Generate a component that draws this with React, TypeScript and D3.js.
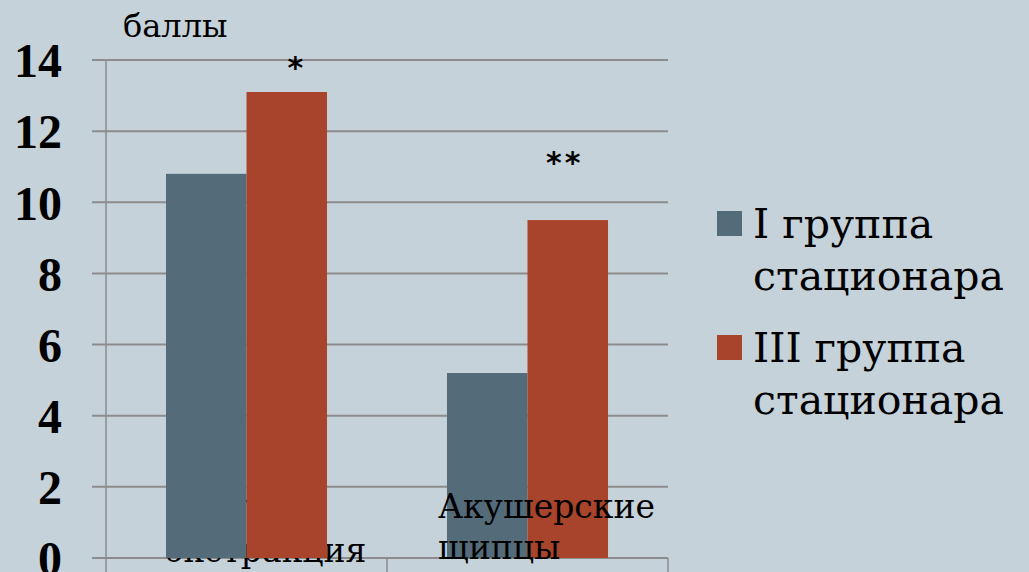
import React from "react";
import * as d3 from "d3";

// Chart data
const categories = ["Вакуум-экстракция", "Акушерские щипцы"];
const categoryLines = [["Вакуум-", "экстракция"], ["Акушерские", "щипцы"]];
const seriesNames = ["I группа стационара", "III группа стационара"];
const seriesLegendLines = [["I группа", "стационара"], ["III группа", "стационара"]];
const groupI = [10.8, 5.2];
const groupIII = [13.1, 9.5];
const significance = ["*", "**"];
const yTicks = [0, 2, 4, 6, 8, 10, 12, 14];
const yLabel = "баллы";

const W = 1029;
const H = 572;
const BG = "#c6d2d9";
const COLORS = ["#546b7a", "#a8432c"];
const GRID = "#8c8c8c";
const SERIF = "'DejaVu Serif', 'Liberation Serif', serif";

export default function App() {
  const left = 106;
  const right = 668;
  const top = 60;
  const bottom = 558;

  const y = d3.scaleLinear().domain([0, 14]).range([bottom, top]);
  const x0 = d3.scaleBand<string>().domain(categories).range([left, right]).paddingInner(0).paddingOuter(0);
  const x1 = d3
    .scaleBand<string>()
    .domain(seriesNames)
    .range([0, x0.bandwidth()])
    .paddingOuter(0.745)
    .paddingInner(0);

  const series = [groupI, groupIII];

  const categoryLabel = (i: number) => {
    const c = categories[i];
    return (
      <text key={`lbl-${c}`} fontFamily={SERIF} fontSize={33} fill="#000">
        {categoryLines[i].map((ln, j) => (
          <tspan
            key={j}
            x={(x0(c) as number) + (i === 0 ? 59 : 51)}
            y={518 + j * 41 + (i === 0 && j === 1 ? 3 : 0)}
          >
            {ln}
          </tspan>
        ))}
      </text>
    );
  };

  return (
    <svg
      width={W}
      height={H}
      style={{ position: "absolute", left: 0, top: 0, display: "block" }}
    >
      <rect x={0} y={0} width={W} height={H} fill={BG} />

      {/* gridlines with short outer tick */}
      {yTicks.map((t) => (
        <line key={t} x1={92} x2={right} y1={y(t)} y2={y(t)} stroke={GRID} strokeWidth={2} />
      ))}
      {/* vertical axis and category separators */}
      <line x1={left} x2={left} y1={top} y2={H} stroke={GRID} strokeWidth={1.5} />
      {[...categories.map((c) => x0(c) as number), right].map((xv, i) =>
        i === 0 ? null : (
          <line key={i} x1={xv} x2={xv} y1={bottom} y2={H} stroke={GRID} strokeWidth={1.5} />
        )
      )}

      {/* y tick labels */}
      {yTicks.map((t) => (
        <text
          key={t}
          x={62}
          y={y(t)}
          dy="0.36em"
          textAnchor="end"
          fontFamily="'Liberation Serif', serif"
          fontWeight="bold"
          fontSize={48}
          fill="#000"
        >
          {t}
        </text>
      ))}

      <text x={123} y={37} fontFamily={SERIF} fontSize={32} fill="#000">
        {yLabel}
      </text>

      {/* first category label lies beneath the bars */}
      {categoryLabel(0)}

      {/* bars */}
      {categories.map((c, i) => (
        <g key={c} transform={`translate(${x0(c)},0)`}>
          {series.map((s, k) => (
            <rect
              key={k}
              x={x1(seriesNames[k])}
              y={y(s[i])}
              width={x1.bandwidth()}
              height={y(0) - y(s[i])}
              fill={COLORS[k]}
            />
          ))}
        </g>
      ))}

      {/* second category label sits over its bars */}
      {categoryLabel(1)}

      {/* significance marks over III group bars */}
      {categories.map((c, i) => (
        <text
          key={c}
          x={(x0(c) as number) + (x1(seriesNames[1]) as number) + x1.bandwidth() / 2 + (i === 0 ? 10 : -3)}
          y={i === 0 ? 78 : 173}
          textAnchor="middle"
          fontFamily="'DejaVu Sans', sans-serif"
          fontWeight="bold"
          fontSize={30}
          letterSpacing={3}
          fill="#000"
        >
          {significance[i]}
        </text>
      ))}

      {/* legend */}
      {seriesNames.map((s, k) => (
        <g key={s} transform={`translate(717, ${211 + k * 124})`}>
          <rect x={0} y={0} width={25} height={25} fill={COLORS[k]} />
          <text fontFamily={SERIF} fontSize={41} fill="#000">
            {seriesLegendLines[k].map((ln, j) => (
              <tspan key={j} x={36} y={27 + j * 52}>
                {ln}
              </tspan>
            ))}
          </text>
        </g>
      ))}
    </svg>
  );
}
